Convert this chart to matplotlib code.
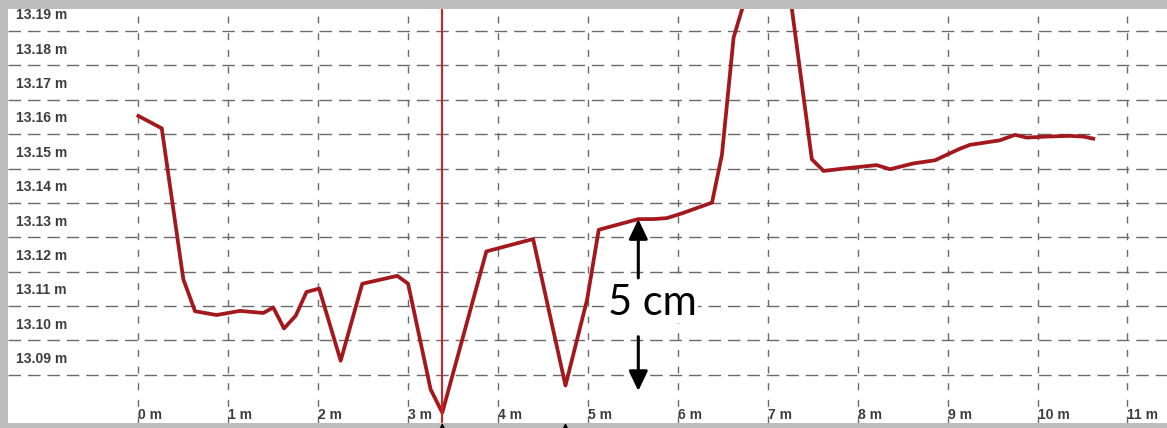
import numpy as np
import matplotlib.pyplot as plt

# profile along the section: distance (m) and surface elevation (m)
distance_m = [
    0.00, 0.26, 0.50, 0.63, 0.87, 1.02, 1.13, 1.39, 1.50, 1.62,
    1.75, 1.87, 2.01, 2.25, 2.49, 2.88, 3.00, 3.25, 3.38, 3.87,
    4.39, 4.75, 4.99, 5.12, 5.56, 5.73, 5.88, 6.06, 6.38, 6.49,
    6.62, 6.88, 7.19, 7.49, 7.62, 7.88, 8.21, 8.36, 8.62, 8.86,
    8.99, 9.14, 9.25, 9.58, 9.75, 9.88, 10.10, 10.36, 10.51, 10.62,
]
elevation_m = [
    13.1603, 13.1567, 13.1128, 13.1035, 13.1024, 13.1031, 13.1036, 13.1030, 13.1046, 13.0985,
    13.1022, 13.1091, 13.1101, 13.0891, 13.1115, 13.1138, 13.1115, 13.0808, 13.0740, 13.1209,
    13.1245, 13.0819, 13.1068, 13.1272, 13.1303, 13.1303, 13.1306, 13.1321, 13.1351, 13.1490,
    13.1831, 13.2059, 13.2068, 13.1477, 13.1443, 13.1451, 13.1460, 13.1448, 13.1465, 13.1474,
    13.1490, 13.1508, 13.1519, 13.1532, 13.1548, 13.1540, 13.1543, 13.1545, 13.1543, 13.1537,
]

x_ticks = list(range(0, 12))
x_tick_labels = [f"{v} m" for v in x_ticks]
y_ticks = [13.09, 13.10, 13.11, 13.12, 13.13, 13.14, 13.15, 13.16, 13.17, 13.18, 13.19]
y_tick_labels = [f"{v:.2f} m" for v in y_ticks]

# step marked with the double arrow: from this point down by 5 cm
STEP_INDEX = 24
STEP_CM = 5
# local lows pointed at from below the chart
LOW_INDICES = [18, 21]

BORDER = "#bdbdbd"
GRID = "#6a6a6a"
LINE = "#a3181c"
MARKER = "#d42222"
LABEL = "#3c3c3c"

W, H = 1167, 428

plt.rcParams["lines.scale_dashes"] = False

fig = plt.figure(figsize=(W / 100, H / 100), dpi=100, facecolor=BORDER)
ax = fig.add_axes([8 / W, 5 / H, (W - 8) / W, 414 / H])
ax.set_facecolor("white")
for s in ax.spines.values():
    s.set_visible(False)

ax.set_xlim(-1.45, 11.44)
ax.set_ylim(13.0710, 13.1914)

# labels sit between the dashed lines, grid lines on the half-centimetres
ax.set_xticks(x_ticks)
ax.set_xticklabels(x_tick_labels)
ax.set_yticks(y_ticks)
ax.set_yticklabels(y_tick_labels)
ax.set_yticks([v - 0.005 for v in y_ticks], minor=True)

ax.tick_params(axis="both", which="both", length=0)
ax.tick_params(axis="y", pad=-6, labelsize=10, labelcolor=LABEL)
ax.tick_params(axis="x", pad=-1.0, labelsize=10, labelcolor=LABEL)
for t in ax.get_yticklabels():
    t.set_ha("left")
    t.set_fontweight("bold")
    t.set_family("Liberation Sans")
    t.set_clip_on(True)
    t.set_clip_box(ax.bbox)
for t in ax.get_xticklabels():
    t.set_ha("left")
    t.set_va("bottom")
    t.set_fontweight("bold")
    t.set_family("Liberation Sans")

ax.xaxis.grid(True, which="major", color=GRID, lw=1.0, linestyle=(0, (5, 7)))
ax.yaxis.grid(True, which="minor", color=GRID, lw=1.0, linestyle=(0, (9, 5)))
ax.yaxis.grid(False, which="major")
ax.set_axisbelow(True)

ax.plot(distance_m, elevation_m, color=LINE, lw=2.7, solid_joinstyle="round", zorder=3)

# vertical marker through the lowest point
low = int(np.argmin(elevation_m))
ax.axvline(distance_m[low], color=MARKER, lw=1.5, zorder=4)

# 5 cm dimension arrows
sx = distance_m[STEP_INDEX]
top = elevation_m[STEP_INDEX]
bottom = top - STEP_CM / 100
mid = (top + bottom) / 2
arrow = dict(arrowstyle="-|>,head_length=0.8,head_width=0.38", color="black",
             lw=2.2, mutation_scale=15, shrinkA=0, shrinkB=0)
ax.annotate("", xy=(sx, top), xytext=(sx, top - 0.0171), arrowprops=arrow, zorder=5)
ax.annotate("", xy=(sx, bottom), xytext=(sx, bottom + 0.0158), arrowprops=arrow, zorder=5)
ax.text(sx + 0.16, mid + 0.0007, f"{STEP_CM} cm", fontsize=30, family="Lato",
        color="black", ha="center", va="center", zorder=6,
        bbox=dict(facecolor="white", edgecolor="none", pad=1))

# small pointers from below the chart
tr = ax.get_xaxis_transform()
small = dict(arrowstyle="-|>,head_length=0.8,head_width=0.4", color="black",
             lw=1.2, mutation_scale=10, shrinkA=0, shrinkB=0)
for i in LOW_INDICES:
    ax.annotate("", xy=(distance_m[i], 0.0), xycoords=tr,
                xytext=(distance_m[i], -0.06), textcoords=tr,
                arrowprops=small, annotation_clip=False)

fig.savefig("out.png", dpi=100, facecolor=BORDER)
